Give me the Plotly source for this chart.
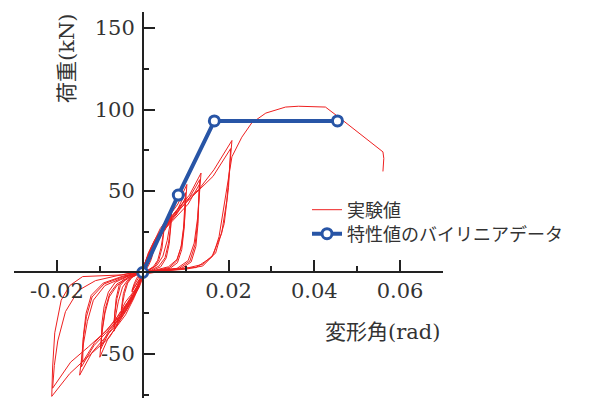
import plotly.graph_objects as go

# ---- data ----
# experimental hysteresis, one list of (deformation angle [rad], load [kN]) per cycle
cycle_01 = [(0, 0), (0.0006, 2), (0.0012, 5), (0.0018, 8), (0.0022, 11), (0.0025, 14),
            (0.002, 11), (0.0015, 9), (0.001, 7), (0.0005, 4), (0.0001, 1),
            (-0.0006, -1.5), (-0.0012, -4), (-0.0018, -7), (-0.0022, -9.5), (-0.0025, -12),
            (-0.002, -9.5), (-0.0015, -7.5), (-0.001, -6), (-0.0005, -3.5), (-0.0001, -1)]
cycle_02 = [(0.0007, 1.5), (0.0014, 4.5), (0.002, 8), (0.0025, 13),
            (0.0018, 10), (0.001, 6.5), (0.0004, 3), (0, 0.5),
            (-0.0007, -1), (-0.0014, -3.5), (-0.002, -7), (-0.0025, -11),
            (-0.0018, -8.5), (-0.001, -5.5), (-0.0004, -2.5), (0, 0)]
cycle_03 = [(0.00125, 1.5), (0.0025, 3.6), (0.0035, 7.5), (0.00425, 15), (0.00475, 23), (0.005, 30),
            (0.004, 23), (0.003, 19), (0.002, 15), (0.001, 9), (0.00025, 3), (-0.0002, 0.5),
            (-0.00125, -1.3), (-0.0025, -3), (-0.0035, -6.5), (-0.00425, -13), (-0.00475, -20), (-0.005, -26),
            (-0.004, -20), (-0.003, -16.5), (-0.002, -13), (-0.001, -8), (-0.00025, -2.5), (0.0002, -0.3)]
cycle_04 = [(0.0014, 1.2), (0.0028, 3.5), (0.0038, 8), (0.0045, 15), (0.005, 27),
            (0.004, 21), (0.0028, 16), (0.0016, 11), (0.0006, 5), (0, 0.8),
            (-0.0014, -1), (-0.0028, -3), (-0.0038, -7), (-0.0045, -13), (-0.005, -23),
            (-0.004, -18), (-0.0028, -14), (-0.0016, -10), (-0.0006, -4.5), (0, -0.5)]
cycle_05 = [(0.0017, 2), (0.0034, 4.7), (0.0047, 10), (0.0057, 19.5), (0.0064, 30), (0.0067, 39),
            (0.0054, 30), (0.004, 25), (0.0027, 19.5), (0.0013, 12), (0.0003, 4), (-0.0002, 0.5),
            (-0.0017, -1.8), (-0.0034, -4.3), (-0.0047, -9), (-0.0057, -18), (-0.0064, -28), (-0.0067, -36),
            (-0.0054, -28), (-0.004, -23), (-0.0027, -18), (-0.0013, -11), (-0.0003, -3.6), (0.0002, -0.3)]
cycle_06 = [(0.002, 1.5), (0.0038, 4), (0.0052, 9), (0.006, 18), (0.0065, 27), (0.0067, 36),
            (0.0053, 28), (0.0039, 23), (0.0025, 17), (0.0012, 10), (0.0002, 3), (-0.0002, 0.3),
            (-0.002, -1.3), (-0.0038, -3.6), (-0.0052, -8), (-0.006, -16), (-0.0065, -25), (-0.0067, -33),
            (-0.0053, -26), (-0.0039, -21), (-0.0025, -16), (-0.0012, -9.5), (-0.0002, -3), (0.0002, -0.2)]
cycle_07 = [(0.0022, 1.2), (0.0042, 3.5), (0.0055, 9), (0.0062, 18), (0.0067, 34),
            (0.0052, 26), (0.0036, 21), (0.002, 14), (0.0006, 5), (-0.0001, 0.3),
            (-0.0022, -1), (-0.0042, -3), (-0.0055, -8), (-0.0062, -16), (-0.0067, -31),
            (-0.0052, -24), (-0.0036, -19), (-0.002, -13), (-0.0006, -4.5), (0.0001, 0)]
cycle_08 = [(0.003, 1.5), (0.006, 3.5), (0.008, 8), (0.0091, 17), (0.0097, 30), (0.0100, 42), (0.0103, 54),
            (0.0082, 42), (0.0062, 35), (0.0041, 27), (0.0021, 16), (0.0005, 5.5), (-0.0003, 0.5),
            (-0.003, -3), (-0.006, -8), (-0.0078, -15), (-0.0088, -25), (-0.0095, -37), (-0.010, -52),
            (-0.008, -40), (-0.006, -33), (-0.004, -26), (-0.002, -15.5), (-0.0005, -5), (0.0003, -0.3)]
cycle_09 = [(0.003, 1.2), (0.0062, 3), (0.0079, 7), (0.0089, 15), (0.0095, 27), (0.0098, 38), (0.010, 49),
            (0.008, 38), (0.006, 31), (0.004, 24.5), (0.002, 14.5), (0.0005, 5), (-0.0003, 0.3),
            (-0.003, -2.5), (-0.006, -7), (-0.0077, -13), (-0.0087, -22), (-0.0094, -34), (-0.0098, -47),
            (-0.0078, -36.5), (-0.0059, -30), (-0.0039, -23.5), (-0.002, -14), (-0.0005, -4.5), (0.0003, 0)]
cycle_10 = [(0.0032, 1), (0.0064, 2.6), (0.0081, 6), (0.0091, 14), (0.0097, 28), (0.010, 46),
            (0.008, 36), (0.006, 29.5), (0.004, 23), (0.002, 14), (0.0005, 4.5), (-0.0003, 0),
            (-0.0032, -2), (-0.0064, -6), (-0.008, -12), (-0.009, -21), (-0.0095, -31), (-0.0097, -45),
            (-0.0078, -35), (-0.0058, -29), (-0.0039, -22.5), (-0.0019, -13.5), (-0.0005, -4.5), (0.0003, 0)]
cycle_11 = [(0.004, 1.2), (0.008, 2.5), (0.0106, 7.3), (0.012, 18), (0.0128, 33.5), (0.0132, 46), (0.0136, 61),
            (0.0109, 47.5), (0.0082, 39), (0.0054, 30.5), (0.0027, 18.3), (0.0007, 6), (-0.0004, 0.5),
            (-0.0044, -3), (-0.0088, -8), (-0.0115, -17), (-0.0129, -30), (-0.0139, -45), (-0.0147, -63),
            (-0.0118, -49), (-0.0088, -40), (-0.0059, -31.5), (-0.0029, -19), (-0.0007, -6.3), (0.0004, -0.5)]
cycle_12 = [(0.0042, 1), (0.0084, 2.3), (0.011, 7), (0.0122, 17), (0.0128, 31), (0.0131, 43), (0.0133, 57),
            (0.0106, 44.5), (0.008, 36.5), (0.0053, 28.5), (0.0027, 17), (0.0007, 5.7), (-0.0004, 0.3),
            (-0.0045, -2.5), (-0.009, -7), (-0.0118, -15), (-0.0131, -27), (-0.0139, -41), (-0.0143, -58),
            (-0.0114, -45), (-0.0086, -37), (-0.0057, -29), (-0.0029, -17.4), (-0.0007, -5.8), (0.0004, 0)]
cycle_13 = [(0.0045, 1), (0.0088, 2), (0.0113, 6.5), (0.0124, 16), (0.0129, 30), (0.0132, 54),
            (0.0106, 42), (0.0079, 34.5), (0.0053, 27), (0.0026, 16), (0.0007, 5.4), (-0.0004, 0.3),
            (-0.0046, -2.2), (-0.0092, -6.5), (-0.012, -14), (-0.0132, -25), (-0.0138, -38), (-0.014, -55),
            (-0.0112, -43), (-0.0084, -35), (-0.0056, -27.5), (-0.0028, -16.5), (-0.0007, -5.5), (0.0004, 0)]
cycle_14 = [(0.004, 1.5), (0.008, 2.5), (0.0124, 3), (0.0161, 9.5), (0.0184, 24), (0.0196, 44), (0.0202, 62), (0.0208, 81),
            (0.0166, 63), (0.0131, 51), (0.0092, 42), (0.0055, 30), (0.0025, 17), (0.0008, 7), (-0.0003, 1),
            (-0.005, -1.5), (-0.010, -2), (-0.014, -2.5), (-0.017, -8), (-0.019, -17), (-0.0205, -37), (-0.021, -58), (-0.0212, -76),
            (-0.017, -62), (-0.0125, -51), (-0.0078, -40), (-0.004, -24), (-0.0008, -9), (0.0003, -1)]
cycle_15 = [(0.005, 1), (0.010, 2), (0.014, 4), (0.017, 12), (0.019, 30), (0.020, 52), (0.0205, 76),
            (0.0164, 59), (0.0123, 48.5), (0.0082, 38), (0.0041, 23), (0.001, 7.6), (-0.0003, 0.5),
            (-0.006, -2), (-0.011, -5), (-0.015, -11), (-0.018, -24), (-0.0198, -42), (-0.0206, -57), (-0.021, -71),
            (-0.0168, -55), (-0.0126, -45.5), (-0.0084, -35.5), (-0.0042, -21.3), (-0.001, -7), (0.0003, 0)]
final_push = [(0.005, 1), (0.010, 2.5), (0.014, 5), (0.0165, 11), (0.0178, 22), (0.0188, 38), (0.0198, 55),
              (0.0208, 71), (0.0231, 83), (0.0254, 91.7), (0.0287, 97.8), (0.0333, 101.5), (0.0363, 102),
              (0.0426, 101.5), (0.0456, 95.5), (0.0495, 87.5), (0.0525, 81.3), (0.056, 74), (0.0562, 70), (0.056, 62)]

exp_cycles = [cycle_01, cycle_02, cycle_03, cycle_04, cycle_05, cycle_06, cycle_07, cycle_08,
              cycle_09, cycle_10, cycle_11, cycle_12, cycle_13, cycle_14, cycle_15, final_push]
exp_x = [p[0] for c in exp_cycles for p in c]
exp_y = [p[1] for c in exp_cycles for p in c]

# bilinear model from characteristic values
bil_x = [0.0, 0.0083, 0.0167, 0.0454]
bil_y = [0.0, 47.5, 93.0, 93.0]

x_tickvals = [-0.02, 0.02, 0.04, 0.06]
x_ticktext = ["-0.02", "0.02", "0.04", "0.06"]
x_minor = [-0.03, -0.01, 0.01, 0.03, 0.05, 0.07]
y_tickvals = [-50, 50, 100, 150]
y_ticktext = ["-50", "50", "100", "150"]
y_minor = [-75, -25, 25, 75, 125]

series_names = ["実験値", "特性値のバイリニアデータ"]
x_title = "変形角(rad)"
y_title = "荷重(kN)"

# ---- figure ----
# the page body adds an 8 px margin, so the figure is 8 px smaller and
# all pixel positions below are measured from (8, 8) of the window
W, H = 604, 390
OFF = 8
x_range = [-0.03, 0.07]
y_range = [-77, 160]
x_dom = [(14 - OFF) / W, (443 - OFF) / W]
y_dom = [0, 1 - (11.7 - OFF) / H]

x0_paper = x_dom[0] + (0 - x_range[0]) / (x_range[1] - x_range[0]) * (x_dom[1] - x_dom[0])
y0_paper = y_dom[0] + (0 - y_range[0]) / (y_range[1] - y_range[0]) * (y_dom[1] - y_dom[0])


def px(x):
    return (x - OFF) / W


def py(y):
    return 1 - (y - OFF) / H


serif = "DejaVu Serif, Noto Sans CJK JP, serif"
cjk = "Noto Sans CJK JP, sans-serif"
axis_col = "#222222"
text_col = "#333333"

fig = go.Figure()
fig.add_trace(go.Scatter(
    x=exp_x, y=exp_y, mode="lines", name=series_names[0], legend="legend",
    line=dict(color="#ee2020", width=1),
))
fig.add_trace(go.Scatter(
    x=bil_x, y=bil_y, mode="lines+markers", name=series_names[1], legend="legend2",
    line=dict(color="#2855a6", width=4),
    marker=dict(symbol="circle", size=10, color="white",
                line=dict(color="#2855a6", width=3)),
))

axis_common = dict(
    showgrid=False, zeroline=False, showline=True, linecolor=axis_col, linewidth=1.5,
    ticks="inside", ticklen=12, tickwidth=1.5, tickcolor=axis_col,
    tickfont=dict(family=serif, size=21, color=text_col),
    tickmode="array", anchor="free", automargin=False,
)
legend_common = dict(xanchor="left", yanchor="middle", bgcolor="rgba(0,0,0,0)",
                     font=dict(family=cjk, size=18, color=text_col), itemwidth=30)
fig.update_layout(
    width=W, height=H,
    margin=dict(l=0, r=0, t=0, b=0, autoexpand=False),
    paper_bgcolor="white", plot_bgcolor="white",
    xaxis=dict(range=x_range, domain=x_dom, position=y0_paper,
               tickvals=x_tickvals, ticktext=x_ticktext,
               minor=dict(tickmode="array", tickvals=x_minor, ticks="inside",
                          ticklen=6, tickwidth=1.5, tickcolor=axis_col),
               **axis_common),
    yaxis=dict(range=y_range, domain=y_dom, position=x0_paper,
               tickvals=y_tickvals, ticktext=y_ticktext, ticklabelstandoff=3,
               minor=dict(tickmode="array", tickvals=y_minor, ticks="inside",
                          ticklen=6, tickwidth=1.5, tickcolor=axis_col),
               **axis_common),
    legend=dict(x=px(307), y=py(210), **legend_common),
    legend2=dict(x=px(307), y=py(234), **legend_common),
    showlegend=True,
    annotations=[
        dict(text=y_title, x=px(67), y=py(58), xref="paper", yref="paper",
             showarrow=False, textangle=-90, xanchor="center", yanchor="middle",
             font=dict(family=serif, size=21, color=text_col)),
        dict(text=x_title, x=px(382), y=py(332), xref="paper", yref="paper",
             showarrow=False, xanchor="center", yanchor="middle",
             font=dict(family=serif, size=21, color=text_col)),
    ],
)

fig.write_html("out.html")
